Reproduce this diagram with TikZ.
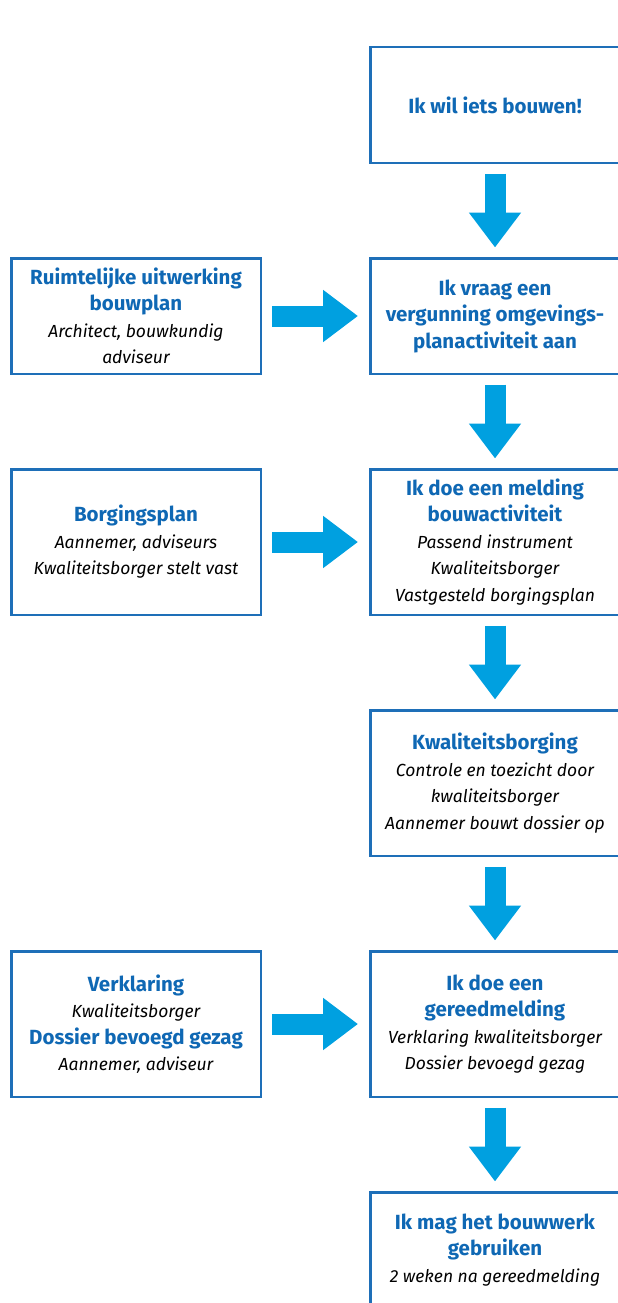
\documentclass[tikz,border=0pt]{standalone}
\usepackage{fontspec}
\setmainfont{Fira Sans}
\usepackage{tikz}
\usetikzlibrary{arrows.meta, positioning}
\usepackage{xcolor}

\definecolor{kopblauw}{HTML}{0F68B4}
\definecolor{randblauw}{HTML}{1E6FB8}
\definecolor{pijlblauw}{HTML}{00A0E0}

\newcommand{\kop}[1]{{\bfseries\color{kopblauw}#1}}
\newcommand{\toel}[1]{{\fontsize{17.5}{26}\selectfont\itshape #1}}

\begin{document}
\begin{tikzpicture}[
x=1pt, y=1pt,
node distance=93pt,
box/.style={draw=randblauw, rectangle, line width=2.5pt,
minimum width=249.5pt, minimum height=115.5pt,
align=center, font=\fontsize{20.5}{26.5}\selectfont},
hoogbox/.style={box, minimum height=145.5pt},
pijl/.style={draw=pijlblauw, line width=21pt,
-{Triangle[length=35pt, width=50pt]},
shorten <=9.5pt, shorten >=9.5pt},
zijpijl/.style={pijl, shorten <=10pt, shorten >=11pt}
]

\useasboundingbox (0,0) rectangle (618,-1303);
\clip (0,0) rectangle (618,-1303);

\node[box] (wil) at (495,-105) {\kop{Ik wil iets bouwen!}};
\node[box, below=of wil] (vraag) {\kop{Ik vraag een}\\ \kop{vergunning omgevings-}\\ \kop{planactiviteit aan}};
\node[hoogbox, below=of vraag] (melding) {\kop{Ik doe een melding}\\ \kop{bouwactiviteit}\\ \toel{Passend instrument}\\ \toel{Kwaliteitsborger}\\ \toel{Vastgesteld borgingsplan}};
\node[hoogbox, below=of melding] (borging) {\kop{Kwaliteitsborging}\\ \toel{Controle en toezicht door}\\ \toel{kwaliteitsborger}\\ \toel{Aannemer bouwt dossier op}};
\node[hoogbox, below=of borging] (gereed) {\kop{Ik doe een}\\ \kop{gereedmelding}\\ \toel{Verklaring kwaliteitsborger}\\ \toel{Dossier bevoegd gezag}};
\node[box, below=of gereed] (gebruik) {\kop{Ik mag het bouwwerk}\\ \kop{gebruiken}\\ \toel{2 weken na gereedmelding}};

\node[box, left=107pt of vraag] (ruimte) {\kop{Ruimtelijke uitwerking}\\ \kop{bouwplan}\\ \toel{Architect, bouwkundig}\\ \toel{adviseur}};
\node[hoogbox, left=107pt of melding] (plan) {\kop{Borgingsplan}\\ \toel{Aannemer, adviseurs}\\ \toel{Kwaliteitsborger stelt vast}};
\node[hoogbox, left=107pt of gereed] (verklaring) {\kop{Verklaring}\\ \toel{Kwaliteitsborger}\\ \kop{Dossier bevoegd gezag}\\ \toel{Aannemer, adviseur}};

\draw[pijl] (wil) -- (vraag);
\draw[pijl] (vraag) -- (melding);
\draw[pijl] (melding) -- (borging);
\draw[pijl] (borging) -- (gereed);
\draw[pijl] (gereed) -- (gebruik);

\draw[zijpijl] (ruimte) -- (vraag);
\draw[zijpijl] (plan) -- (melding);
\draw[zijpijl] (verklaring) -- (gereed);

\end{tikzpicture}
\end{document}
